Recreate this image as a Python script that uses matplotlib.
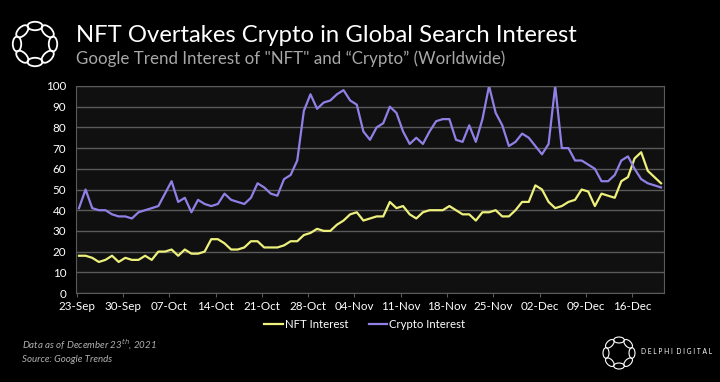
import numpy as np
import matplotlib.pyplot as plt
from matplotlib.patches import Ellipse
from matplotlib.lines import Line2D

# daily google trend values, 23-Sep-2021 .. 20-Dec-2021
nft_interest = [18, 18, 17, 15, 16, 18, 15, 17, 16, 16,
                18, 16, 20, 20, 21, 18, 21, 19, 19, 20,
                26, 26, 24, 21, 21, 22, 25, 25, 22, 22,
                22, 23, 25, 25, 28, 29, 31, 30, 30, 33,
                35, 38, 39, 35, 36, 37, 37, 44, 41, 42,
                38, 36, 39, 40, 40, 40, 42, 40, 38, 38,
                35, 39, 39, 40, 37, 37, 40, 44, 44, 52,
                50, 44, 41, 42, 44, 45, 50, 49, 42, 48,
                47, 46, 54, 56, 65, 68, 59, 56, 53]
crypto_interest = [41, 50, 41, 40, 40, 38, 37, 37, 36, 39,
                   40, 41, 42, 48, 54, 44, 46, 39, 45, 43,
                   42, 43, 48, 45, 44, 43, 46, 53, 51, 48,
                   47, 55, 57, 64, 88, 96, 89, 92, 93, 96,
                   98, 93, 91, 78, 74, 80, 82, 90, 87, 78,
                   72, 75, 72, 78, 83, 84, 84, 74, 73, 81,
                   73, 84, 100, 87, 81, 71, 73, 77, 75, 71,
                   67, 72, 100, 70, 70, 64, 64, 62, 60, 54,
                   54, 57, 64, 66, 60, 55, 53, 52, 51]
tick_labels = ['23-Sep', '30-Sep', '07-Oct', '14-Oct', '21-Oct', '28-Oct', '04-Nov',
               '11-Nov', '18-Nov', '25-Nov', '02-Dec', '09-Dec', '16-Dec']

NFT_COL = '#eef07c'
CRYPTO_COL = '#8f80e6'
GRID_COL = '#5a5a5a'

fig = plt.figure(figsize=(7.2, 3.82), dpi=100, facecolor='black')
plt.rcParams['font.family'] = ['Lato', 'DejaVu Sans']

# overlay in pixel coordinates for the logos
ov = fig.add_axes([0, 0, 1, 1], zorder=0)
ov.set_xlim(0, 720)
ov.set_ylim(382, 0)
ov.axis('off')


def draw_logo(cx, cy, R, r, lw):
    # ring of interlocking links
    for k in range(8):
        a = np.pi / 2 + k * np.pi / 4
        ov.add_patch(Ellipse((cx + R * np.cos(a), cy + R * np.sin(a)), 2.3 * r, 1.3 * r,
                             angle=np.degrees(a) + 90, fill=False, ec='white', lw=lw))


draw_logo(35, 44, 18, 6.5, 1.3)
draw_logo(619, 353, 13, 4.6, 0.8)

ax = fig.add_axes([76 / 720, 1 - 293 / 382, 588 / 720, 207 / 382], zorder=1)
ax.set_facecolor('#101010')
x = np.arange(len(nft_interest))
ax.plot(x, nft_interest, color=NFT_COL, lw=1.6, label='NFT Interest')
ax.plot(x, crypto_interest, color=CRYPTO_COL, lw=1.6, label='Crypto Interest')

ax.set_xlim(-0.45, 88.45)
ax.set_ylim(0, 100)
ax.set_yticks(range(0, 101, 10))
ax.set_xticks(np.arange(0, 85, 7) - 0.35)
ax.set_xticklabels(tick_labels)
ax.grid(axis='y', color=GRID_COL, lw=1)
ax.set_axisbelow(True)
for s in ax.spines.values():
    s.set_color(GRID_COL)
ax.tick_params(axis='y', length=0, colors='white', labelsize=8.4, pad=7)
ax.tick_params(axis='x', length=3, color=GRID_COL, colors='white', labelsize=8.4, pad=3)

leg = fig.legend(handles=[Line2D([], [], color=NFT_COL, lw=1.6),
                          Line2D([], [], color=CRYPTO_COL, lw=1.6)],
                 labels=['NFT Interest', 'Crypto Interest'],
                 loc='center', bbox_to_anchor=(365 / 720, 1 - 324 / 382), ncol=2,
                 frameon=False, fontsize=8.2, handlelength=1.6, handletextpad=0.2,
                 columnspacing=1.8, labelcolor='white')

fig.text(76 / 720, 1 - 36 / 382, 'NFT Overtakes Crypto in Global Search Interest',
         color='white', fontsize=17.2, va='center', ha='left')
fig.text(76 / 720, 1 - 59 / 382, 'Google Trend Interest of "NFT" and \u201cCrypto\u201d (Worldwide)',
         color='#a8a8a8', fontsize=12.2, va='center', ha='left')

fig.text(22 / 720, 1 - 345 / 382, r'Data as of December 23$^{th}$, 2021',
         color='#b0b0b0', fontsize=7, style='italic', va='center')
fig.text(22 / 720, 1 - 359 / 382, 'Source: Google Trends',
         color='#b0b0b0', fontsize=7, style='italic', va='center')
fig.text(641 / 720, 1 - 352 / 382, 'D E L P H I  D I G I T A L',
         color='white', fontsize=4.8, va='center', ha='left')

fig.savefig('out.png', dpi=100, facecolor='black')
